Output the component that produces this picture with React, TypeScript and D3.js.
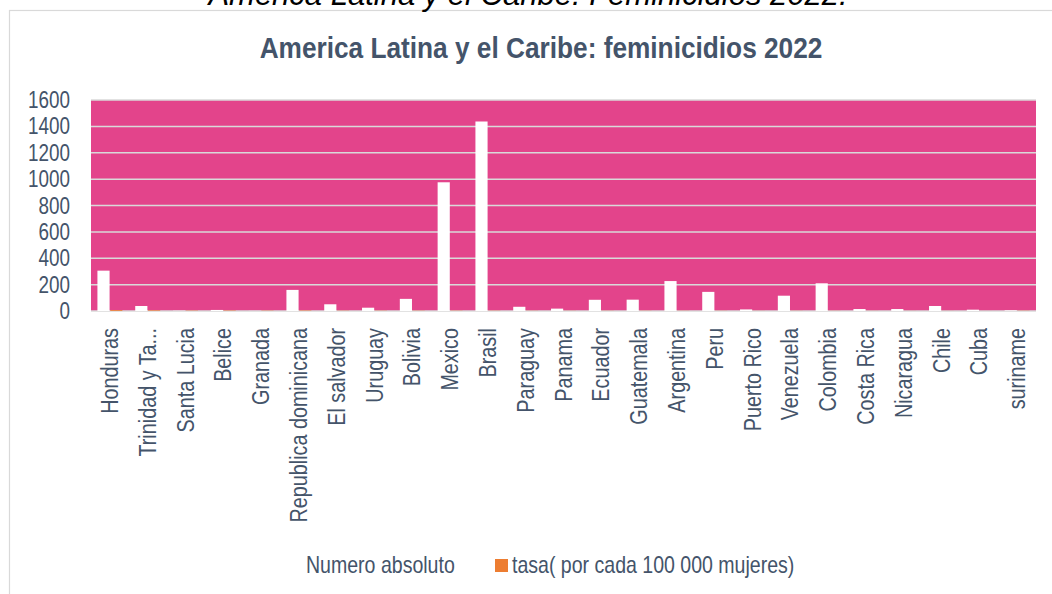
import React from "react";
import * as d3 from "d3";

const categories = [
  "Honduras", "Trinidad y Ta...", "Santa Lucia", "Belice", "Granada",
  "Republica dominicana", "El salvador", "Uruguay", "Bolivia", "Mexico",
  "Brasil", "Paraguay", "Panama", "Ecuador", "Guatemala", "Argentina",
  "Peru", "Puerto Rico", "Venezuela", "Colombia", "Costa Rica",
  "Nicaragua", "Chile", "Cuba", "suriname",
];
const absoluteValues = [
  306, 38, 2, 8, 1, 160, 51, 25, 92, 976, 1437, 32, 18, 85, 86, 227,
  145, 12, 116, 210, 15, 15, 38, 10, 5,
];
const rateValues = [
  6.0, 4.4, 2.2, 2.9, 1.8, 2.9, 1.6, 1.5, 1.5, 1.5, 1.4, 1.0, 0.8, 1.0,
  1.1, 1.0, 0.9, 0.6, 0.8, 0.8, 0.6, 0.4, 0.4, 0.2, 1.4,
];
const yTicks = [0, 200, 400, 600, 800, 1000, 1200, 1400, 1600];
const seriesNames = ["Numero absoluto", "tasa( por cada 100 000 mujeres)"];

const W = 1052;
const H = 594;
const FONT = "'Liberation Sans', Arial, sans-serif";
const TEXT = "#44546A";

export default function App() {
  const plot = { left: 91, right: 1036, top: 100, bottom: 311 };
  const x = d3
    .scaleBand<string>()
    .domain(categories)
    .range([plot.left, plot.right])
    .paddingInner(0.34)
    .paddingOuter(0.17);
  const sub = d3
    .scaleBand<string>()
    .domain(["abs", "rate"])
    .range([0, x.bandwidth()])
    .paddingInner(0.05);
  const y = d3.scaleLinear().domain([0, 1600]).range([plot.bottom, plot.top]);

  return (
    <svg
      width={W}
      height={H}
      style={{ position: "absolute", left: 0, top: 0, background: "#fff" }}
      fontFamily={FONT}
    >
      <rect x={9.5} y={10.5} width={1100} height={700} fill="#fff" stroke="#D9D9D9" strokeWidth={1.2} />
      <text
        x={528}
        y={5}
        textAnchor="middle"
        fontSize={31}
        fontStyle="italic"
        fill="#000"
      >
        America Latina y el Caribe: Feminicidios 2022.
      </text>
      <text
        transform="translate(541,58) scale(0.905,1)"
        textAnchor="middle"
        fontSize={29}
        fontWeight="bold"
        fill={TEXT}
      >
        America Latina y el Caribe: feminicidios 2022
      </text>

      <rect
        x={plot.left}
        y={plot.top}
        width={plot.right - plot.left}
        height={plot.bottom - plot.top}
        fill="#E3448B"
      />
      {yTicks.map((t) => (
        <g key={t}>
          <line
            x1={plot.left}
            x2={plot.right}
            y1={y(t)}
            y2={y(t)}
            stroke="#D9D9D9"
            strokeWidth={1.5}
          />
          <text
            transform={`translate(70,${y(t)}) scale(0.82,1)`}
            dy="0.35em"
            textAnchor="end"
            fontSize={23}
            fill={TEXT}
          >
            {t}
          </text>
        </g>
      ))}

      {categories.map((c, i) => {
        const x0 = x(c)!;
        const ya = y(absoluteValues[i]);
        const yr = y(rateValues[i]);
        return (
          <g key={c}>
            <rect
              x={x0 + sub("abs")!}
              y={ya}
              width={sub.bandwidth()}
              height={plot.bottom - ya}
              fill="#FFFFFF"
            />
            <rect
              x={x0 + sub("rate")!}
              y={yr}
              width={sub.bandwidth()}
              height={plot.bottom - yr}
              fill="#ED7D31"
            />
            <text
              transform={`translate(${x0 + x.bandwidth() / 2 + 8},${328}) rotate(-90) scale(0.86,1)`}
              textAnchor="end"
              fontSize={23}
              fill={TEXT}
            >
              {c}
            </text>
          </g>
        );
      })}

      <g fontSize={23} fill={TEXT}>
        <rect x={291} y={559} width={13} height={13} fill="#FFFFFF" />
        <text transform="translate(306,565) scale(0.85,1)" dy="0.35em">{seriesNames[0]}</text>
        <rect x={495} y={559} width={13} height={13} fill="#ED7D31" />
        <text transform="translate(512,565) scale(0.85,1)" dy="0.35em">{seriesNames[1]}</text>
      </g>
    </svg>
  );
}
